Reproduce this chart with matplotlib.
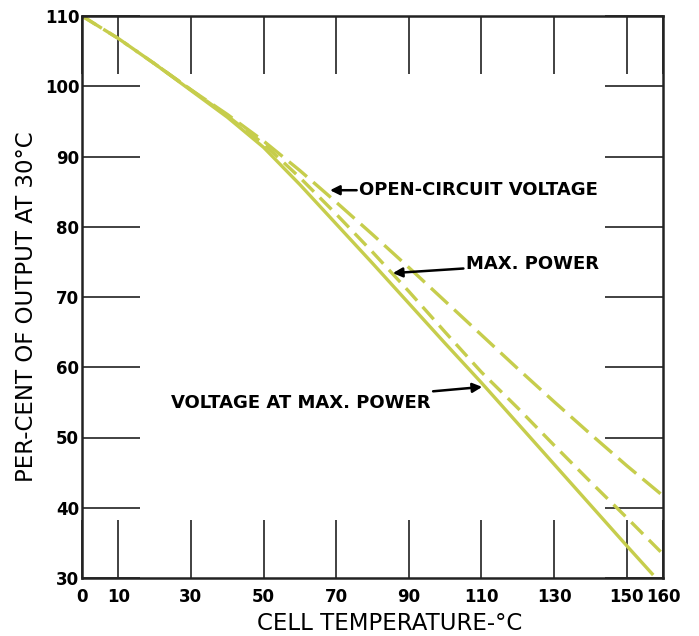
import matplotlib
matplotlib.use("Agg")
import matplotlib.pyplot as plt

# ---- data ----
temp = [0, 10, 20, 30, 40, 50, 60, 70, 80, 90, 100, 110, 120, 130, 140, 150, 160]
open_circuit = [110, 106.8, 103.2, 99.5, 96.0, 92.2, 88.0, 83.5, 78.9, 74.2, 69.4, 64.6, 59.8, 55.1, 50.5, 46.0, 41.7]
max_power = [110, 106.8, 103.2, 99.5, 95.8, 91.8, 87.0, 81.8, 76.4, 70.8, 65.0, 59.3, 54.2, 48.9, 43.7, 38.6, 33.4]
v_temp = [20, 30, 40, 50, 60, 70, 80, 90, 100, 110, 120, 130, 140, 150, 157]
v_at_max = [103.2, 99.4, 95.6, 91.3, 86.0, 80.4, 74.8, 69.1, 63.4, 57.8, 52.0, 46.2, 40.4, 34.6, 30.6]

xticks = [0, 10, 30, 50, 70, 90, 110, 130, 150, 160]
yticks = [30, 40, 50, 60, 70, 80, 90, 100, 110]

line_col = "#c6cd4c"
font = ["DejaVu Sans"]

fig = plt.figure(figsize=(6.99, 6.36), dpi=100)
ax = fig.add_axes([82 / 699, 1 - 578 / 636, (663 - 82) / 699, (578 - 16) / 636])

ax.plot(temp, open_circuit, color=line_col, lw=2.4, dashes=(7, 2.5))
ax.plot(temp, max_power, color=line_col, lw=2.4, dashes=(5, 2.5))
ax.plot(v_temp, v_at_max, color=line_col, lw=2.4)

ax.set_xlim(0, 160)
ax.set_ylim(30, 110)
ax.set_xticks(xticks)
ax.set_yticks(yticks)
ax.set_xticklabels([str(t) for t in xticks], fontsize=12, fontweight="bold", family=font)
ax.set_yticklabels([str(t) for t in yticks], fontsize=12, fontweight="bold", family=font)
ax.tick_params(axis="both", direction="in", length=42, width=1.3, color="#333333",
               top=True, right=True)
ax.tick_params(axis="x", pad=7)
ax.tick_params(axis="y", pad=2)
for s in ax.spines.values():
    s.set_linewidth(1.8)
    s.set_color("#222222")

fig.text(390 / 699, 1 - 624 / 636, "CELL TEMPERATURE-°C", ha="center", va="center",
         fontsize=16.5, family=font)
fig.text(27 / 699, 1 - 307 / 636, "PER-CENT OF OUTPUT AT 30°C", ha="center", va="center",
         rotation=90, fontsize=16.5, family=font)

arrow = dict(arrowstyle="-|>", color="black", lw=1.8, mutation_scale=14, shrinkA=0, shrinkB=0)
ax.annotate("OPEN-CIRCUIT VOLTAGE", xy=(68.3, 85.2), xytext=(76.4, 85.2),
            ha="left", va="center", fontsize=13, fontweight="bold", family=font,
            arrowprops=arrow)
ax.annotate("MAX. POWER", xy=(85.6, 73.4), xytext=(105.8, 74.7),
            ha="left", va="center", fontsize=13, fontweight="bold", family=font,
            arrowprops=arrow)
ax.annotate("VOLTAGE AT MAX. POWER", xy=(110.2, 57.2), xytext=(96.1, 54.9),
            ha="right", va="center", fontsize=13, fontweight="bold", family=font,
            arrowprops=arrow)

fig.savefig("out.png", dpi=100)
